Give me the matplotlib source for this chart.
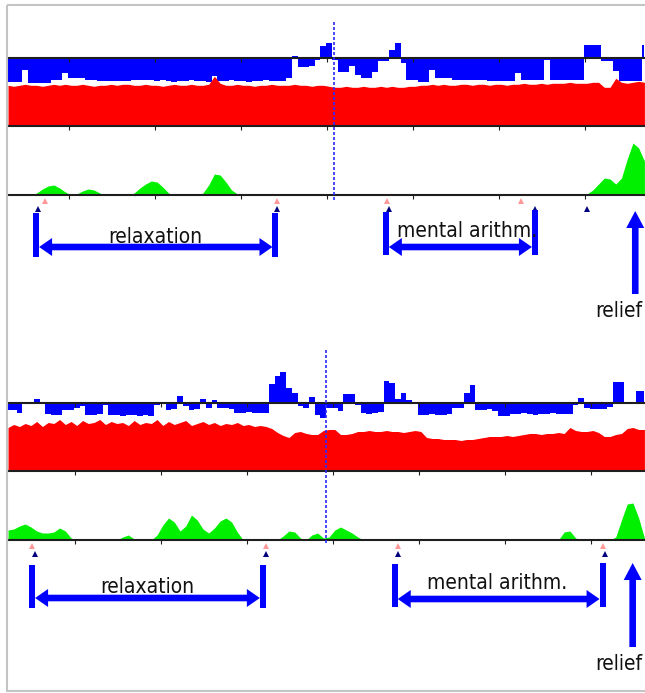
import numpy as np
import matplotlib.pyplot as plt
from matplotlib.markers import TICKDOWN
from matplotlib.patches import Polygon, Rectangle

W, H = 645, 693

# one sample every 4 s, ticks every 60 s
step = 4.0
span = 444.4
tick_times = [60, 120, 180, 240, 300, 360, 420]

# ---- recording 1 ----
t0_1 = 17.4
blue_1 = [-24, -24, -24, -12, -25, -25, -25, -25, -22, -22,
          -15, -20, -20, -20, -22, -22, -23, -23, -23, -23,
          -23, -23, -22, -22, -22, -22, -23, -22, -23, -24,
          -23, -23, -22, -23, -23, -24, -18, -23, -23, -22,
          -23, -23, -24, -23, -23, -22, -23, -23, -23, -20,
          2, -9, -9, -8, -2, 12, 15, -2, -14, -14,
          -8, -17, -20, -20, -14, -3, -3, 8, 15, -5,
          -22, -22, -24, -24, -12, -20, -20, -20, -22, -22,
          -22, -22, -22, -22, -23, -23, -23, -23, -23, -15,
          -22, -22, -22, -22, -2, -22, -22, -22, -22, -22,
          -22, 13, 13, 13, -3, -3, -13, -23, -23, -23, -23, 13]
red_1 = [41, 40, 41, 42, 41, 41, 40, 41, 42, 41,
         42, 41, 41, 42, 41, 40, 41, 41, 42, 41,
         42, 42, 41, 41, 42, 41, 41, 40, 41, 42,
         41, 41, 42, 41, 41, 42, 50, 43, 41, 41,
         42, 41, 41, 40, 41, 41, 42, 41, 41, 41,
         42, 41, 41, 40, 41, 41, 40, 39, 39, 40,
         39, 39, 40, 39, 39, 40, 39, 40, 39, 39,
         40, 40, 41, 41, 42, 41, 42, 41, 41, 42,
         42, 41, 42, 42, 41, 42, 42, 41, 42, 42,
         43, 42, 42, 43, 42, 43, 43, 43, 44, 43,
         43, 43, 44, 44, 39, 39, 48, 44, 43, 44, 45, 44]
green_1 = [1, 0, 0, 0, 0, 2, 6, 9, 10, 7,
           3, 0, 1, 4, 6, 5, 2, 0, 0, 0,
           0, 0, 2, 7, 11, 14, 13, 8, 2, 0,
           0, 0, 0, 0, 2, 10, 21, 20, 13, 5,
           1, 0, 0, 0, 0, 0, 0, 0, 1, 0,
           0, 0, 0, 0, 0, 0, 0, 0, 0, 0,
           0, 1, 0, 0, 0, 0, 0, 0, 0, 0,
           0, 0, 0, 0, 0, 0, 0, 0, 1, 0,
           0, 0, 0, 0, 0, 0, 0, 0, 0, 0,
           0, 0, 0, 0, 0, 0, 1, 0, 0, 0,
           0, 1, 5, 11, 17, 16, 11, 17, 36, 52, 47, 34]
pink_1 = [43, 205, 282, 375]
navy_1 = [38, 205, 283, 385, 421]
cursor_1 = 245
relax_1 = (37, 204)
arith_1 = (281, 385)
relief_1 = 455

# ---- recording 2 ----
t0_2 = 13.2
blue_2 = [-7, -7, -10, 0, 1, 4, 0, -11, -12, -12,
          -7, -7, -5, -3, -12, -12, -11, -2, -12, -12,
          -13, -12, -12, -13, -12, -13, -2, 0, -7, -6,
          7, -3, -7, -6, 4, -5, 3, -5, -5, -6,
          -10, -10, -9, -10, -10, -10, 19, 27, 31, 15,
          10, -3, -5, 6, -12, -15, -5, -5, -8, 9,
          9, -2, -10, -11, -10, -9, 22, 20, 4, 10,
          3, -1, -12, -12, -11, -12, -12, -11, -5, -5,
          10, 18, -7, -7, -6, -8, -13, -13, -11, -11,
          -10, -11, -12, -11, -11, -10, -11, -11, -11, -2,
          5, -5, -6, -6, -6, -4, 21, 21, -1, -1, 12, 12]
red_2 = [43, 46, 44, 47, 45, 49, 44, 48, 47, 51,
         46, 49, 45, 50, 47, 48, 51, 46, 49, 47,
         48, 45, 50, 46, 48, 47, 51, 45, 49, 46,
         48, 50, 45, 47, 49, 46, 48, 45, 47, 46,
         48, 45, 46, 44, 45, 44, 42, 38, 35, 33,
         38, 39, 37, 36, 36, 40, 41, 41, 36, 36,
         37, 39, 39, 40, 39, 39, 40, 39, 39, 38,
         39, 40, 39, 33, 32, 32, 31, 31, 31, 30,
         31, 31, 32, 33, 34, 34, 34, 35, 34, 35,
         36, 37, 37, 36, 37, 37, 38, 37, 43, 40,
         39, 39, 40, 38, 34, 34, 36, 37, 42, 43, 41, 41]
green_2 = [10, 11, 14, 16, 13, 9, 7, 7, 8, 12,
           9, 2, 0, 0, 0, 0, 0, 0, 0, 0,
           3, 5, 1, 0, 0, 0, 5, 15, 22, 18,
           9, 14, 25, 20, 11, 7, 12, 19, 22, 18,
           8, 0, 0, 0, 0, 0, 0, 0, 4, 9,
           8, 2, 0, 5, 7, 2, 3, 10, 13, 10,
           7, 3, 0, 0, 0, 0, 0, 0, 0, 0,
           0, 0, 0, 0, 0, 0, 0, 0, 0, 0,
           0, 0, 0, 0, 0, 0, 0, 0, 0, 0,
           0, 0, 0, 0, 0, 0, 0, 8, 9, 2,
           0, 0, 0, 0, 0, 0, 3, 20, 36, 37, 22, 2]
pink_2 = [30, 193, 285, 428]
navy_2 = [32, 193, 285, 430]
cursor_2 = 235
relax_2 = (30, 191)
arith_2 = (283, 428)
relief_2 = 449

INK = '#1e1e1e'
BLUE = '#0000ff'

fig = plt.figure(figsize=(W / 100, H / 100), dpi=100)
fig.patch.set_facecolor('white')


def px_axes(x0, y0, x1, y1):
    # axes placed with pixel coordinates measured from the top left
    return fig.add_axes([x0 / W, 1 - y1 / H, (x1 - x0) / W, (y1 - y0) / H])


def style_axes(ax):
    for s in ['top', 'left', 'right']:
        ax.spines[s].set_visible(False)
    ax.spines['bottom'].set_linewidth(1.5)
    ax.spines['bottom'].set_color(INK)
    ax.set_xticks(tick_times)
    ax.set_yticks([])
    ax.tick_params(axis='x', direction='out', length=3, width=0.8, color=INK, labelbottom=False)
    ax.patch.set_visible(False)


def draw_panel(base, gbase, t0, blue, red, green, pink, navy):
    t = t0 + step * np.arange(len(blue))

    ax = px_axes(8, base - 48, 645, base + 68)
    ax.fill_between(t, 0, blue, step='mid', color=BLUE, lw=0)
    ax.fill_between(t, -68, np.array(red) - 68, color='#ff0000', lw=0)
    ax.axhline(0, color=INK, lw=1.5)
    ax.plot(tick_times, np.zeros(len(tick_times)), ls='none', marker=TICKDOWN,
            ms=3, mew=0.8, color=INK)
    ax.set_xlim(t0, t0 + span)
    ax.set_ylim(-68, 48)
    style_axes(ax)

    axg = px_axes(8, gbase - 65, 645, gbase)
    axg.fill_between(t, 0, green, color='#00f000', lw=0)
    axg.plot(pink, np.full(len(pink), -6), ls='none', marker='^', ms=4.5, mew=0,
             color='#ff9999', clip_on=False)
    axg.plot(navy, np.full(len(navy), -13.5), ls='none', marker='^', ms=4.5, mew=0,
             color='#00007f', clip_on=False)
    axg.set_xlim(t0, t0 + span)
    axg.set_ylim(0, 65)
    style_axes(axg)
    return ax


ax1 = draw_panel(58.3, 195, t0_1, blue_1, red_1, green_1, pink_1, navy_1)
ax2 = draw_panel(402.5, 540, t0_2, blue_2, red_2, green_2, pink_2, navy_2)

# overlay in pixel coordinates for cursor lines, arrows and labels
over = fig.add_axes([0, 0, 1, 1])
over.set_xlim(0, W)
over.set_ylim(H, 0)
over.axis('off')
over.patch.set_alpha(0)


def to_px(ax, tval):
    disp = ax.transData.transform((tval, 0))
    return over.transData.inverted().transform(disp)[0]


def span_arrow(x1, x2, y, top1, top2, bottom):
    for x, top in ((x1, top1), (x2, top2)):
        over.add_patch(Rectangle((x - 3, top), 6, bottom - top, color=BLUE, lw=0))
    a, b = x1 + 3, x2 - 3
    hl, hw, sw = 13, 9, 3.3
    pts = [(a, y), (a + hl, y - hw), (a + hl, y - sw), (b - hl, y - sw), (b - hl, y - hw),
           (b, y), (b - hl, y + hw), (b - hl, y + sw), (a + hl, y + sw), (a + hl, y + hw)]
    over.add_patch(Polygon(pts, closed=True, color=BLUE, lw=0))


def up_arrow(x, tip, bottom):
    hl, hw, sw = 17, 9, 3.3
    pts = [(x, tip), (x + hw, tip + hl), (x + sw, tip + hl), (x + sw, bottom),
           (x - sw, bottom), (x - sw, tip + hl), (x - hw, tip + hl)]
    over.add_patch(Polygon(pts, closed=True, color=BLUE, lw=0))


txt = dict(ha='center', va='baseline', fontsize=15, fontstretch='condensed', color='#111111')

# recording 1 annotations
c1 = to_px(ax1, cursor_1)
over.plot([c1, c1], [22, 200], color='#2a2aff', lw=1.2, ls=(0, (1.8, 1.2)))
r1a, r1b = to_px(ax1, relax_1[0]), to_px(ax1, relax_1[1])
span_arrow(r1a, r1b, 247, 213, 213, 257)
over.text((r1a + r1b) / 2, 243, 'relaxation', **txt)
m1a, m1b = to_px(ax1, arith_1[0]), to_px(ax1, arith_1[1])
span_arrow(m1a, m1b, 247, 212, 210, 255)
over.text(467, 237, 'mental arithm.', **txt)
up_arrow(to_px(ax1, relief_1), 211, 294)
over.text(619, 317, 'relief', **txt)

# recording 2 annotations
c2 = to_px(ax2, cursor_2)
over.plot([c2, c2], [350, 545], color='#2a2aff', lw=1.2, ls=(0, (1.8, 1.2)))
r2a, r2b = to_px(ax2, relax_2[0]), to_px(ax2, relax_2[1])
span_arrow(r2a, r2b, 598, 565, 565, 608)
over.text((r2a + r2b) / 2, 593, 'relaxation', **txt)
m2a, m2b = to_px(ax2, arith_2[0]), to_px(ax2, arith_2[1])
span_arrow(m2a, m2b, 599, 564, 563, 607)
over.text(497, 589, 'mental arithm.', **txt)
up_arrow(to_px(ax2, relief_2), 563, 647)
over.text(619, 670, 'relief', **txt)

# light grey frame of the window
over.add_patch(Rectangle((7, 4.5), 700, 686.5, fill=False, edgecolor='#c4c4c4', lw=1.5))

fig.savefig('out.png', dpi=100, facecolor='white')
